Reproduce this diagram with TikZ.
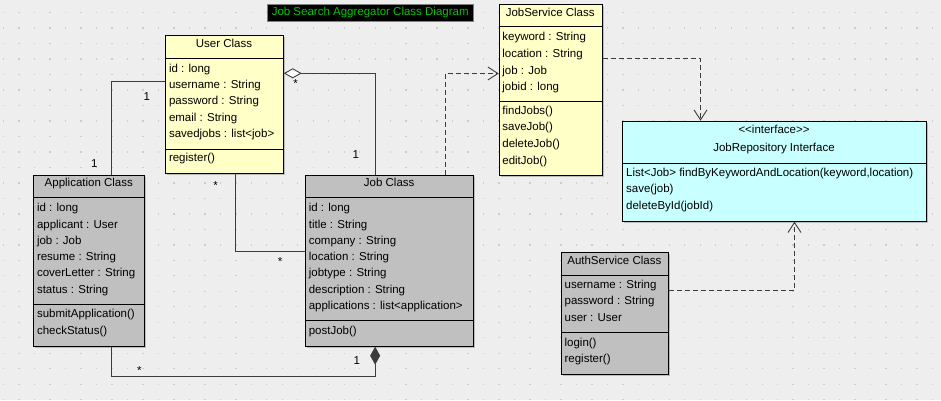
\documentclass[tikz,border=0pt]{standalone}
\usepackage{fontspec}
\setmainfont{Liberation Sans}
\usetikzlibrary{arrows.meta, shadows}

\definecolor{bgc}{RGB}{238,238,238}
\definecolor{dotc}{RGB}{205,205,205}
\definecolor{userfill}{RGB}{255,255,200}
\definecolor{greyfill}{RGB}{192,192,192}
\definecolor{repofill}{RGB}{200,255,255}
\definecolor{titlegreen}{RGB}{0,200,0}
\definecolor{linec}{RGB}{60,60,60}

\tikzset{
  classbox/.style={draw=black, line width=1pt, anchor=north west, inner sep=0pt,
    drop shadow={shadow xshift=1.5pt, shadow yshift=-1.5pt, fill=black!45}},
  sep/.style={draw=black, line width=1pt},
  member/.style={anchor=base west, inner sep=0pt, font=\fontsize{11.5}{14}\selectfont},
  classname/.style={anchor=base, inner sep=0pt, font=\fontsize{11.5}{14}\selectfont},
  mult/.style={anchor=base, inner sep=0pt, font=\fontsize{11.5}{14}\selectfont},
  assoc/.style={draw=linec, line width=0.9pt},
  dep/.style={draw=linec, line width=0.9pt, dash pattern=on 5pt off 3pt,
    -{Straight Barb[length=10pt, width=13pt]}}
}

\begin{document}
\begin{tikzpicture}[x=1pt, y=-1pt]
  % Canvas
  \fill[bgc] (0,0) rectangle (941,400);
  \useasboundingbox (0,0) rectangle (941,400);
  \foreach \i in {0,...,60}
    \foreach \j in {0,...,25}
      \fill[dotc] ({3+15.48*\i},{12+15.48*\j}) rectangle ++(1.3,1.3);

  % Title
  \node[fill=black, draw=gray, line width=1pt, text=titlegreen, inner sep=0pt,
    minimum width=206pt, minimum height=16.7pt, anchor=north west,
    font=\fontsize{11.5}{14}\selectfont] (title) at (266.7,4)
    {Job Search Aggregator Class Diagram};

  % User class
  \node[classbox, fill=userfill, minimum width=117.4pt, minimum height=138.3pt] (user) at (165.3,35) {};
  \draw[sep] ([yshift=-23.3pt]user.north west) -- ([yshift=-23.3pt]user.north east);
  \draw[sep] ([yshift=-114pt]user.north west) -- ([yshift=-114pt]user.north east);
  \node[classname] (user-name) at (224,47.3) {User Class};
  \foreach \t [count=\i] in {id : long, username : String, password : String, email : String, savedjobs : list<job>}
    \node[member] (user-a\i) at (168.8,{72.3+16.25*(\i-1)}) {\t};
  \node[member] (user-m1) at (168.8,161.3) {register()};

  % Application class
  \node[classbox, fill=greyfill, minimum width=111pt, minimum height=170.7pt] (app) at (33.3,175) {};
  \draw[sep] ([yshift=-22.7pt]app.north west) -- ([yshift=-22.7pt]app.north east);
  \draw[sep] ([yshift=-129.3pt]app.north west) -- ([yshift=-129.3pt]app.north east);
  \node[classname] (app-name) at (88.8,186.7) {Application Class};
  \foreach \t [count=\i] in {id : long, applicant : User, job : Job, resume : String, coverLetter : String, status : String}
    \node[member] (app-a\i) at (36.8,{211.7+16.3*(\i-1)}) {\t};
  \foreach \t [count=\i] in {submitApplication(), checkStatus()}
    \node[member] (app-m\i) at (36.8,{317.7+16.3*(\i-1)}) {\t};

  % Job class
  \node[classbox, fill=greyfill, minimum width=168.3pt, minimum height=170.7pt] (job) at (305,175) {};
  \draw[sep] ([yshift=-22.7pt]job.north west) -- ([yshift=-22.7pt]job.north east);
  \draw[sep] ([yshift=-145.7pt]job.north west) -- ([yshift=-145.7pt]job.north east);
  \node[classname] (job-name) at (389.2,186.7) {Job Class};
  \foreach \t [count=\i] in {id : long, title : String, company : String, location : String, jobtype : String, description : String, applications : list<application>}
    \node[member] (job-a\i) at (308.6,{211.7+16.3*(\i-1)}) {\t};
  \node[member] (job-m1) at (308.6,334) {postJob()};

  % JobService class
  \node[classbox, fill=userfill, minimum width=103pt, minimum height=171pt] (jobsvc) at (498.7,4) {};
  \draw[sep] ([yshift=-22.7pt]jobsvc.north west) -- ([yshift=-22.7pt]jobsvc.north east);
  \draw[sep] ([yshift=-97pt]jobsvc.north west) -- ([yshift=-97pt]jobsvc.north east);
  \node[classname] (jobsvc-name) at (550.2,16) {JobService Class};
  \foreach \t [count=\i] in {keyword : String, location : String, job : Job, jobid : long}
    \node[member] (jobsvc-a\i) at (502.2,{40.7+16.67*(\i-1)}) {\t};
  \foreach \t [count=\i] in {findJobs(), saveJob(), deleteJob(), editJob()}
    \node[member] (jobsvc-m\i) at (502.2,{114+16.67*(\i-1)}) {\t};

  % JobRepository interface
  \node[classbox, fill=repofill, minimum width=303.4pt, minimum height=100pt] (repo) at (622.3,120.7) {};
  \draw[sep] ([yshift=-42.6pt]repo.north west) -- ([yshift=-42.6pt]repo.north east);
  \node[classname] (repo-st) at (774,133.3) {<{}<interface>{}>};
  \node[classname] (repo-name) at (774,151.7) {JobRepository Interface};
  \foreach \t [count=\i] in {{List<Job> findByKeywordAndLocation(keyword,location)}, save(job), deleteById(jobId)}
    \node[member] (repo-m\i) at (626,{176.3+16.35*(\i-1)}) {\t};

  % AuthService class
  \node[classbox, fill=greyfill, minimum width=106.7pt, minimum height=122.3pt] (auth) at (561,251.7) {};
  \draw[sep] ([yshift=-23.3pt]auth.north west) -- ([yshift=-23.3pt]auth.north east);
  \draw[sep] ([yshift=-80.6pt]auth.north west) -- ([yshift=-80.6pt]auth.north east);
  \node[classname] (auth-name) at (614.3,264) {AuthService Class};
  \foreach \t [count=\i] in {username : String, password : String, user : User}
    \node[member] (auth-a\i) at (564.4,{288.7+16.2*(\i-1)}) {\t};
  \foreach \t [count=\i] in {login(), register()}
    \node[member] (auth-m\i) at (564.4,{346+16.2*(\i-1)}) {\t};

  % Associations
  \draw[assoc] ([yshift=-46.7pt]user.north west) -| ([xshift=22.2pt]app.north);
  \draw[assoc, {Diamond[open, fill=white, length=18pt, width=10pt]}-]
    ([yshift=-38.3pt]user.north east) -| ([xshift=-14.5pt]job.north);
  \draw[assoc] ([xshift=11pt]user.south) |- ([yshift=-76.7pt]job.north west);
  \draw[assoc, {Diamond[length=18pt, width=10pt]}-]
    ([xshift=-14.5pt]job.south) -- ++(0,29.3) -| ([xshift=22.2pt]app.south);

  % Dependencies
  \draw[dep] ([xshift=55.5pt]job.north) |- ([yshift=-69.5pt]jobsvc.north west);
  \draw[dep] ([yshift=-54.3pt]jobsvc.north east) -| ([xshift=-74pt]repo.north);
  \draw[dep] ([yshift=-38.3pt]auth.north east) -| ([xshift=20pt]repo.south);

  % Multiplicities
  \node[mult] (mul-ua1) at (146.7,100.7) {1};
  \node[mult] (mul-ua2) at (94.3,167.3) {1};
  \node[mult] (mul-uj1) at (295.7,87) {*};
  \node[mult] (mul-uj2) at (355.7,158) {1};
  \node[mult] (mul-us1) at (215.7,189.3) {*};
  \node[mult] (mul-us2) at (280,265.3) {*};
  \node[mult] (mul-aj1) at (139.3,374.3) {*};
  \node[mult] (mul-aj2) at (356.7,364) {1};
\end{tikzpicture}
\end{document}
